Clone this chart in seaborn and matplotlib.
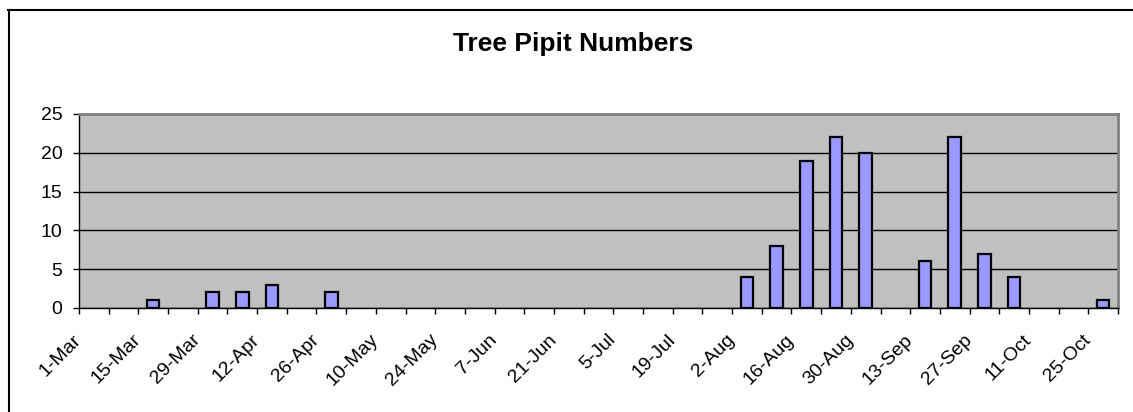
import matplotlib
matplotlib.use("Agg")
import matplotlib.pyplot as plt
from matplotlib.lines import Line2D
from matplotlib.transforms import ScaledTranslation
import numpy as np
import seaborn as sns

weeks = ['1-Mar', '8-Mar', '15-Mar', '22-Mar', '29-Mar', '5-Apr', '12-Apr', '19-Apr',
         '26-Apr', '3-May', '10-May', '17-May', '24-May', '31-May', '7-Jun', '14-Jun',
         '21-Jun', '28-Jun', '5-Jul', '12-Jul', '19-Jul', '26-Jul', '2-Aug', '9-Aug',
         '16-Aug', '23-Aug', '30-Aug', '6-Sep', '13-Sep', '20-Sep', '27-Sep', '4-Oct',
         '11-Oct', '18-Oct', '25-Oct']
counts = [0, 0, 1, 0, 2, 2, 3, 0,
          2, 0, 0, 0, 0, 0, 0, 0,
          0, 0, 0, 0, 0, 0, 4, 8,
          19, 22, 20, 0, 6, 22, 7, 4,
          0, 0, 1]
yticks = [0, 5, 10, 15, 20, 25]

plt.rcParams['font.family'] = ['Liberation Sans', 'DejaVu Sans']

fig = plt.figure(figsize=(11.33, 4.12), dpi=100)
ax = fig.add_axes([79 / 1133, 1 - 308 / 412, (1118 - 79) / 1133, (308 - 114) / 412])
ax.set_facecolor('#C0C0C0')

sns.barplot(x=weeks, y=counts, color='#9999FF', saturation=1, edgecolor='black',
            linewidth=1.6, width=0.42, ax=ax, zorder=3)
# empty weeks get no bar outline
for p in ax.patches:
    if p.get_height() == 0:
        p.set_visible(False)

ax.set_xlim(-0.5, len(weeks) - 0.5)
ax.set_ylim(0, 25)
ax.set_yticks(yticks)
ax.yaxis.grid(True, color='black', linewidth=1)
ax.set_axisbelow(True)

# ticks sit on week boundaries, label every second week
ax.set_xticks(np.arange(-0.5, len(weeks), 1))
xlabels = [w if i % 2 == 0 else '' for i, w in enumerate(weeks)] + ['']
ax.set_xticklabels(xlabels, rotation=45, ha='right', va='center', rotation_mode='anchor')
for lab in ax.get_xticklabels():
    lab.set_transform(lab.get_transform() + ScaledTranslation(0.11, 0, fig.dpi_scale_trans))

ax.tick_params(axis='both', labelsize=14, length=4, width=1, color='black')
ax.tick_params(axis='y', pad=8)
ax.tick_params(axis='x', pad=17)
ax.set_xlabel('')
ax.set_ylabel('')

for side in ['top', 'right']:
    ax.spines[side].set_color('#808080')
    ax.spines[side].set_linewidth(2)
for side in ['left', 'bottom']:
    ax.spines[side].set_color('black')
    ax.spines[side].set_linewidth(1)

fig.text(573 / 1133, 1 - 44 / 412, 'Tree Pipit Numbers', ha='center', va='center',
         fontsize=19, fontweight='bold')

# chart area border (left and top visible)
fig.add_artist(Line2D([8.5 / 1133, 8.5 / 1133], [0, 1 - 10 / 412], transform=fig.transFigure,
                      color='black', linewidth=1.5))
fig.add_artist(Line2D([8 / 1133, 1], [1 - 10 / 412, 1 - 10 / 412], transform=fig.transFigure,
                      color='black', linewidth=1.5))

fig.savefig('out.png', dpi=100)
